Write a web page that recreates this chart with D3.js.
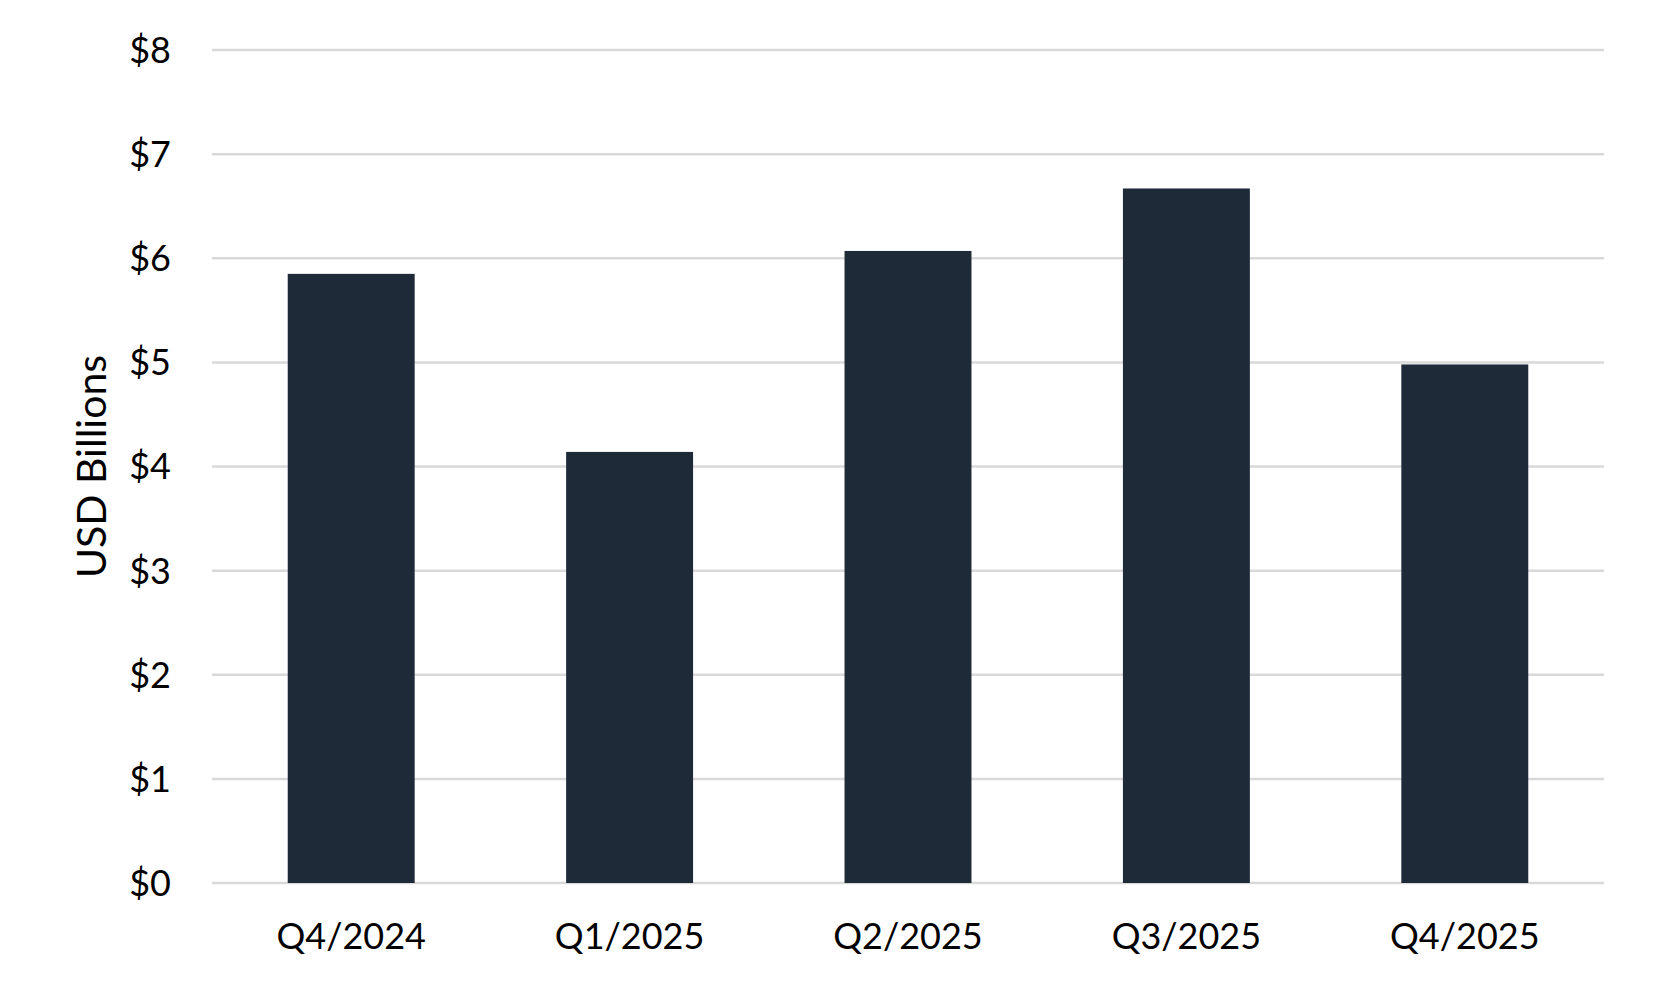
<!DOCTYPE html>
<html>
<head>
<meta charset="utf-8">
<script src="https://cdn.jsdelivr.net/npm/d3@7"></script>
<style>
  body { margin: 0; background: #fff; }
  text { font-family: Lato, "Open Sans", sans-serif; fill: #000; }
</style>
</head>
<body>
<svg id="chart"></svg>
<script>
// data
var quarters = ["Q4/2024", "Q1/2025", "Q2/2025", "Q3/2025", "Q4/2025"];
var values = [5.85, 4.14, 6.07, 6.67, 4.98];
var yTicks = [0, 1, 2, 3, 4, 5, 6, 7, 8];

var wtot = 1659,
    htot = 990;

var margin = { top: 50, right: 55, bottom: 107, left: 212 },
    width = wtot - margin.left - margin.right,
    height = htot - margin.top - margin.bottom;

var svg = d3.select("#chart")
    .attr("width", wtot)
    .attr("height", htot);

var x = d3.scaleBand()
    .domain(quarters)
    .range([margin.left, margin.left + width])
    .paddingInner(0.544)
    .paddingOuter(0.272);

var y = d3.scaleLinear()
    .domain([0, 8])
    .range([margin.top + height, margin.top]);

// gridlines
svg.append("g")
    .selectAll("line")
    .data(yTicks)
    .join("line")
    .attr("x1", margin.left)
    .attr("x2", margin.left + width)
    .attr("y1", d => y(d))
    .attr("y2", d => y(d))
    .attr("stroke", "#d9d9d9")
    .attr("stroke-width", 2.5);

// bars
svg.append("g")
    .selectAll("rect")
    .data(values)
    .join("rect")
    .attr("x", (d, i) => x(quarters[i]))
    .attr("width", x.bandwidth())
    .attr("y", d => y(d))
    .attr("height", d => y(0) - y(d))
    .attr("fill", "#1f2a38");

// y tick labels
svg.append("g")
    .attr("font-size", 36)
    .attr("text-anchor", "end")
    .selectAll("text")
    .data(yTicks)
    .join("text")
    .attr("x", margin.left - 41)
    .attr("y", d => y(d))
    .attr("dy", "0.36em")
    .text(d => "$" + d);

// x category labels
svg.append("g")
    .attr("font-size", 36)
    .attr("text-anchor", "middle")
    .selectAll("text")
    .data(quarters)
    .join("text")
    .attr("x", d => x(d) + x.bandwidth() / 2)
    .attr("y", 949)
    .text(d => d);

// y axis title
svg.append("text")
    .attr("font-size", 41)
    .attr("text-anchor", "middle")
    .attr("transform", `translate(106, ${y(4)}) rotate(-90)`)
    .text("USD Billions");
</script>
</body>
</html>
